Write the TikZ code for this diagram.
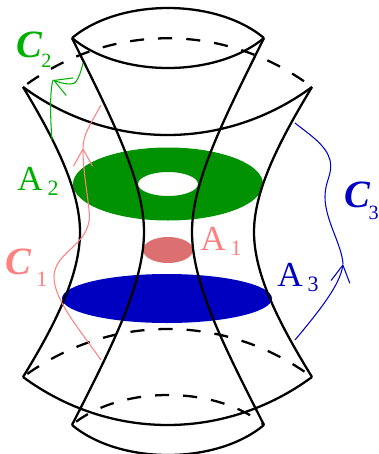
\documentclass[tikz,border=0pt]{standalone}
\usepackage{fontspec}
\setmainfont{Liberation Serif}
\usetikzlibrary{arrows.meta}
\definecolor{ringgreen}{RGB}{0,146,0}
\definecolor{labelgreen}{RGB}{0,176,0}
\definecolor{discblue}{RGB}{0,0,192}
\definecolor{softpink}{RGB}{255,128,128}
\definecolor{discred}{RGB}{220,112,112}
\newcommand{\subnum}[4]{\kern#1pt\raisebox{-#2pt}{\fontsize{#3}{13}\selectfont\mdseries\upshape #4}}
\tikzset{
  sheet/.style={line width=1.3pt,line join=miter},
  hidden/.style={line width=1.3pt,dash pattern=on 8pt off 8pt,dash phase=13pt},
  path1/.style={softpink,line width=0.6pt},
  path2/.style={labelgreen,line width=0.6pt},
  path3/.style={discblue,line width=0.6pt},
  barb/.style={-{Straight Barb[length=3.4mm,width=3.8mm]}},
  arealabel/.style={anchor=base west,inner sep=0pt,font=\fontsize{20}{22}\selectfont},
  pathlabel/.style={anchor=base west,inner sep=0pt,font=\fontsize{22}{24}\selectfont\bfseries\itshape}
}

\begin{document}
\begin{tikzpicture}[x=0.02cm,y=-0.02cm]
  \useasboundingbox (0,0) rectangle (379,454);
  % discs
  \fill[ringgreen,even odd rule] (168,184) ellipse [x radius=95,y radius=36.5] (168,184) ellipse [x radius=30,y radius=12];
  \fill[discblue] (167,298.5) ellipse [x radius=105,y radius=24.5];
  \fill[discred] (168,250) ellipse [x radius=25,y radius=13];
  % outer sheet
  \draw[sheet] (23,87) .. controls (55,140) and (80,190) .. (80,232) .. controls (80,275) and (55,325) .. (23,377);
  \draw[sheet] (312,87) .. controls (280,140) and (254,190) .. (254,232) .. controls (254,275) and (280,325) .. (312,377);
  \draw[sheet] (23,87) .. controls (110,151) and (225,151) .. (312,87);
  \draw[hidden] (23,87) .. controls (110,22) and (225,22) .. (312,87);
  \draw[sheet] (23,377) .. controls (110,441) and (225,441) .. (312,377);
  \draw[hidden] (23,377) .. controls (110,313) and (225,313) .. (312,377);
  % inner sheet
  \draw[sheet] (72,38) .. controls (110,115) and (144,180) .. (144,232) .. controls (144,285) and (110,350) .. (72,425);
  \draw[sheet] (264,38) .. controls (226,115) and (192,180) .. (192,232) .. controls (192,285) and (226,350) .. (264,425);
  \draw[sheet] (72,38) .. controls (120,-2) and (216,-2) .. (264,38);
  \draw[sheet] (72,38) .. controls (120,78) and (216,78) .. (264,38);
  \draw[sheet] (72,425) .. controls (120,465) and (216,465) .. (264,425);
  \draw[hidden] (72,425) .. controls (120,385) and (216,385) .. (264,425);
  % paths
  \coordinate (tip1) at (83,148);
  \coordinate (tip2) at (53,80);
  \coordinate (tip3) at (343,264);
  \draw[path1,barb] (101,360) .. controls (80,330) and (54,300) .. (54,277) .. controls (54,250) and (94,245) .. (89,210) .. controls (87,190) and (83,170) .. (tip1);
  \draw[path1] (tip1) .. controls (83,135) and (90,125) .. (101,105);
  \draw[path2] (52,140) .. controls (50,115) and (50,90) .. (tip2);
  \draw[path2,barb] (83,63) .. controls (79,80) and (75,85) .. (70,84) .. controls (64,84) and (58,82) .. (tip2);
  \draw[path3,barb] (295,340) .. controls (320,310) and (340,285) .. (tip3);
  \draw[path3] (tip3) .. controls (342,245) and (325,220) .. (325,197) .. controls (325,180) and (333,175) .. (330,160) .. controls (326,145) and (310,135) .. (295,123);
  % labels
  \node[arealabel,text=labelgreen] (a2) at (17,190) {A\subnum{2.8}{3}{12.5}{2}};
  \node[arealabel,text=softpink] (a1) at (200,250) {A\subnum{2.8}{3}{12.5}{1}};
  \node[arealabel,text=discblue] (a3) at (277,286) {A\subnum{2.8}{3}{12.5}{3}};
  \node[pathlabel,text=labelgreen] (c2) at (16,57) {C\subnum{-0.5}{6.2}{11.5}{2}};
  \node[pathlabel,text=softpink] (c1) at (5,274) {C\subnum{3}{7}{12.5}{1}};
  \node[pathlabel,text=discblue] (c3) at (344,207) {C\subnum{-0.9}{7}{11.5}{3}};
\end{tikzpicture}
\end{document}
